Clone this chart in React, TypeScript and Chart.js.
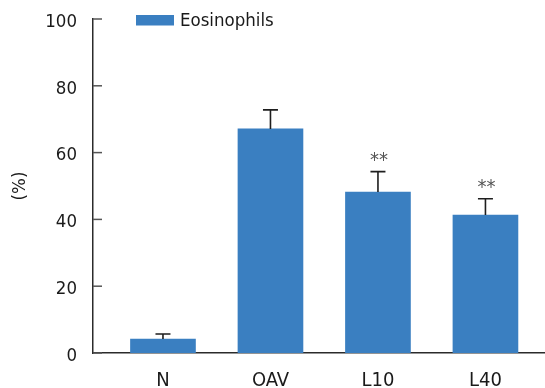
import React, { useEffect, useRef } from 'react';
import { Chart, registerables } from 'chart.js';

Chart.register(...registerables);

const categories = ['N', 'OAV', 'L10', 'L40'];
const eosinophils = [4.2, 67.1, 48.2, 41.3];
const errors = [1.5, 5.7, 6.1, 4.9];
const significance = ['', '', '**', '**'];
const yTicks = [0, 20, 40, 60, 80, 100];
const seriesLabel = 'Eosinophils';

const FONT = '"Liberation Sans Narrow", "Arial Narrow", "DejaVu Sans Condensed", sans-serif';
const BAR_COLOR = '#3a7fc1';
const AXIS_COLOR = '#2b2b2b';
const TEXT_COLOR = '#1a1a1a';

const overlayPlugin = {
  id: 'overlay',
  afterDatasetsDraw(chart: any) {
    const ctx = chart.ctx;
    const yScale = chart.scales.y;
    const meta = chart.getDatasetMeta(0);
    ctx.save();
    meta.data.forEach((bar: any, i: number) => {
      const top = yScale.getPixelForValue(eosinophils[i] + errors[i]);
      ctx.strokeStyle = '#1e1e1e';
      ctx.lineWidth = 1.6;
      ctx.beginPath();
      ctx.moveTo(bar.x, bar.y);
      ctx.lineTo(bar.x, top);
      ctx.moveTo(bar.x - 7.5, top);
      ctx.lineTo(bar.x + 7.5, top);
      ctx.stroke();
      if (significance[i]) {
        ctx.fillStyle = '#555555';
        ctx.font = `20px ${FONT}`;
        ctx.textAlign = 'center';
        ctx.textBaseline = 'middle';
        ctx.fillText(significance[i], bar.x + 1, top - 11);
      }
    });
    const left = chart.chartArea.left;
    ctx.strokeStyle = '#555555';
    ctx.lineWidth = 1.5;
    yTicks.forEach((v) => {
      const y = yScale.getPixelForValue(v);
      ctx.beginPath();
      ctx.moveTo(left, y);
      ctx.lineTo(left + 9, y);
      ctx.stroke();
    });
    const ds = chart.data.datasets[0];
    const lx = left + 43;
    const ly = chart.chartArea.top - 4;
    ctx.fillStyle = ds.backgroundColor;
    ctx.fillRect(lx, ly, 38, 10.5);
    ctx.fillStyle = TEXT_COLOR;
    ctx.font = `18.5px ${FONT}`;
    ctx.textAlign = 'left';
    ctx.textBaseline = 'middle';
    ctx.fillText(ds.label, lx + 44, ly + 6);
    ctx.restore();
  },
};

export default function App() {
  const ref = useRef<HTMLCanvasElement | null>(null);
  useEffect(() => {
    if (!ref.current) return;
    const chart = new Chart(ref.current, {
      type: 'bar',
      data: {
        datasets: [
          {
            label: seriesLabel,
            data: categories.map((_, i) => ({ x: i, y: eosinophils[i] })),
            backgroundColor: BAR_COLOR,
            barThickness: 65,
          } as any,
        ],
      },
      options: {
        animation: false,
        responsive: false,
        maintainAspectRatio: false,
        layout: { padding: { top: 19, right: 0, left: 0, bottom: 0 } },
        plugins: { legend: { display: false }, tooltip: { enabled: false } },
        scales: {
          x: {
            type: 'linear',
            offset: false,
            bounds: 'data',
            min: -0.651,
            max: 3.554,
            grid: { display: false, drawTicks: false },
            border: { display: true, color: AXIS_COLOR, width: 1.5 },
            afterBuildTicks: (s: any) => {
              s.ticks = categories.map((_, i) => ({ value: i }));
            },
            afterFit: (s: any) => {
              s.height = 35;
              s.paddingLeft = 0;
              s.paddingRight = 0;
            },
            ticks: {
              callback: (v: any) => categories[v] ?? '',
              font: { family: FONT, size: 20 },
              color: TEXT_COLOR,
              padding: 16,
              maxRotation: 0,
              autoSkip: false,
            },
          },
          y: {
            min: 0,
            max: 100,
            grid: { display: false, drawTicks: false },
            border: { display: true, color: AXIS_COLOR, width: 1.5 },
            afterBuildTicks: (s: any) => {
              s.ticks = yTicks.map((v) => ({ value: v }));
            },
            afterFit: (s: any) => {
              s.width = 93;
              s.paddingTop = 0;
              s.paddingBottom = 0;
            },
            ticks: {
              font: { family: FONT, size: 18.5 },
              color: TEXT_COLOR,
              padding: 16,
              labelOffset: 3,
            },
            title: {
              display: true,
              text: '(%)',
              font: { family: FONT, size: 18.5 },
              color: TEXT_COLOR,
              padding: { top: 9, bottom: 0 },
            },
          },
        },
      } as any,
      plugins: [overlayPlugin],
    });
    return () => chart.destroy();
  }, []);
  return (
    <div style={{ position: 'fixed', left: 0, top: 0, width: 545, height: 388, background: '#fff' }}>
      <canvas ref={ref} width={545} height={388} />
    </div>
  );
}
